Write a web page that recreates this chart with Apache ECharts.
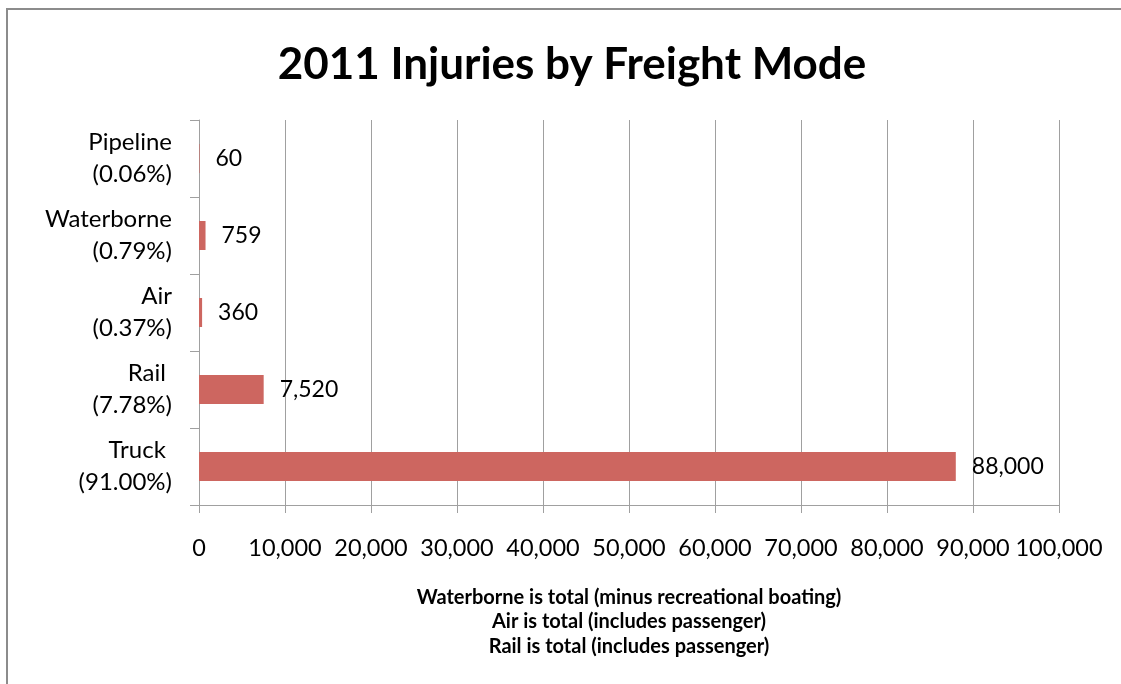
<!DOCTYPE html>
<html>
<head>
<meta charset="utf-8">
<script src="https://cdn.jsdelivr.net/npm/echarts@6/dist/echarts.min.js"></script>
<style>
html,body{margin:0;padding:0;background:#fff;}
#chart{width:1121px;height:684px;}
</style>
</head>
<body>
<div id="chart"></div>
<script>
const chartTitle = "2011 Injuries by Freight Mode";
const categories = ["Pipeline\n(0.06%)", "Waterborne\n(0.79%)", "Air\n(0.37%)", "Rail \n(7.78%)", "Truck \n(91.00%)"];
const injuries = [60, 759, 360, 7520, 88000];
const xTicks = [0, 10000, 20000, 30000, 40000, 50000, 60000, 70000, 80000, 90000, 100000];
const footnote = "Waterborne is total (minus recreational boating)\nAir is total (includes passenger)\nRail is total (includes passenger)";

const FONT = "Lato, 'Liberation Sans', sans-serif";
const fmt = v => Number(v).toLocaleString('en-US');

const chart = echarts.init(document.getElementById('chart'), null, {renderer: 'canvas'});
chart.setOption({
  backgroundColor: '#ffffff',
  animation: false,
  title: {
    text: chartTitle,
    left: 567, textAlign: 'center', top: 38,
    textStyle: {fontFamily: FONT, fontWeight: 'bold', fontSize: 44, color: '#000'}
  },
  graphic: [{
    type: 'rect', shape: {x: 7, y: 9, width: 1130, height: 700},
    style: {fill: 'none', stroke: '#8c8c8c', lineWidth: 2}, silent: true
  }],
  grid: {left: 199, right: 62, top: 120, bottom: 179, containLabel: false},
  xAxis: {
    type: 'value', min: xTicks[0], max: xTicks[xTicks.length - 1], interval: 10000,
    axisLine: {show: true, lineStyle: {color: '#a0a0a0', width: 1}},
    axisTick: {show: true, length: 8, lineStyle: {color: '#a0a0a0'}},
    splitLine: {show: true, lineStyle: {color: '#a0a0a0', width: 1}},
    axisLabel: {fontFamily: FONT, fontSize: 23.5, color: '#000', margin: 31, formatter: fmt, showMinLabel: true, showMaxLabel: true},
    name: footnote, nameLocation: 'middle', nameGap: 80,
    nameTextStyle: {fontFamily: FONT, fontWeight: 'bold', fontSize: 20, color: '#000', lineHeight: 24.5, align: 'center'}
  },
  yAxis: {
    type: 'category', data: categories, inverse: true,
    axisLine: {show: true, lineStyle: {color: '#a0a0a0', width: 1}},
    axisTick: {show: true, length: 9, lineStyle: {color: '#a0a0a0'}},
    splitLine: {show: false},
    axisLabel: {fontFamily: FONT, fontSize: 24, color: '#000', margin: 27, lineHeight: 32, align: 'right'}
  },
  series: [{
    type: 'bar', data: injuries, barWidth: 29,
    itemStyle: {color: '#cd6660'},
    label: {show: true, position: 'right', distance: 16, fontFamily: FONT, fontSize: 23, color: '#000', formatter: p => fmt(p.value)}
  }]
});
</script>
</body>
</html>
